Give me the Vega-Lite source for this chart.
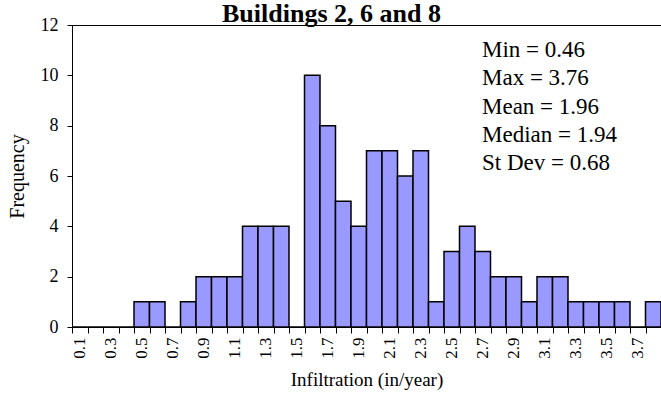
{
  "$schema": "https://vega.github.io/schema/vega-lite/v6.json",
  "width": 589,
  "height": 302,
  "autosize": {"type": "none"},
  "padding": {"left": 72, "top": 25, "right": 0, "bottom": 73},
  "background": "white",
  "config": {
    "font": "Liberation Serif",
    "view": {"stroke": "black", "strokeWidth": 1},
    "axis": {
      "labelFont": "Liberation Serif",
      "titleFont": "Liberation Serif",
      "labelColor": "black",
      "titleColor": "black",
      "domainColor": "black",
      "tickColor": "black",
      "titleFontWeight": "normal",
      "grid": false
    }
  },
  "title": {
    "text": "Buildings 2, 6 and 8",
    "font": "Liberation Serif",
    "fontSize": 26,
    "fontWeight": "bold",
    "color": "black",
    "anchor": "middle",
    "dx": -35,
    "offset": -11
  },
  "resolve": {"scale": {"y": "independent"}},
  "layer": [
    {
      "data": {
        "values": [
          {"bin": "0.1", "count": 0}, {"bin": "0.2", "count": 0}, {"bin": "0.3", "count": 0}, {"bin": "0.4", "count": 0},
          {"bin": "0.5", "count": 1}, {"bin": "0.6", "count": 1}, {"bin": "0.7", "count": 0}, {"bin": "0.8", "count": 1},
          {"bin": "0.9", "count": 2}, {"bin": "1.0", "count": 2}, {"bin": "1.1", "count": 2}, {"bin": "1.2", "count": 4},
          {"bin": "1.3", "count": 4}, {"bin": "1.4", "count": 4}, {"bin": "1.5", "count": 0}, {"bin": "1.6", "count": 10},
          {"bin": "1.7", "count": 8}, {"bin": "1.8", "count": 5}, {"bin": "1.9", "count": 4}, {"bin": "2.0", "count": 7},
          {"bin": "2.1", "count": 7}, {"bin": "2.2", "count": 6}, {"bin": "2.3", "count": 7}, {"bin": "2.4", "count": 1},
          {"bin": "2.5", "count": 3}, {"bin": "2.6", "count": 4}, {"bin": "2.7", "count": 3}, {"bin": "2.8", "count": 2},
          {"bin": "2.9", "count": 2}, {"bin": "3.0", "count": 1}, {"bin": "3.1", "count": 2}, {"bin": "3.2", "count": 2},
          {"bin": "3.3", "count": 1}, {"bin": "3.4", "count": 1}, {"bin": "3.5", "count": 1}, {"bin": "3.6", "count": 1},
          {"bin": "3.7", "count": 0}, {"bin": "3.8", "count": 1}
        ]
      },
      "mark": {"type": "bar", "fill": "#9999FF", "stroke": "black", "strokeWidth": 1.5},
      "encoding": {
        "x": {
          "field": "bin",
          "type": "ordinal",
          "sort": null,
          "scale": {"paddingInner": 0, "paddingOuter": 0},
          "axis": {
            "title": "Infiltration (in/year)",
            "titleFontSize": 19,
            "titlePadding": 12,
            "labelFontSize": 17,
            "labelAngle": -90,
            "labelPadding": 4,
            "labelOverlap": false,
            "tickBand": "extent",
            "tickSize": 6,
            "labelExpr": "round(toNumber(datum.value) * 10) % 2 == 1 ? datum.label : ''"
          }
        },
        "y": {
          "field": "count",
          "type": "quantitative",
          "scale": {"domain": [0, 12]},
          "axis": {
            "title": "Frequency",
            "titleFontSize": 20,
            "titlePadding": 13,
            "labelFontSize": 18,
            "values": [0, 2, 4, 6, 8, 10, 12],
            "tickSize": 5,
            "labelPadding": 9
          }
        }
      }
    },
    {
      "data": {
        "values": [
          {"line": "Min = 0.46", "order": 1},
          {"line": "Max = 3.76", "order": 2},
          {"line": "Mean = 1.96", "order": 3},
          {"line": "Median = 1.94", "order": 4},
          {"line": "St Dev = 0.68", "order": 5}
        ]
      },
      "mark": {"type": "text", "align": "left", "baseline": "alphabetic", "fontSize": 23, "font": "Liberation Serif", "color": "black"},
      "encoding": {
        "x": {"datum": "2.7", "bandPosition": 0.45},
        "y": {"field": "order", "type": "quantitative", "scale": {"domain": [-0.13, 10.54], "reverse": true}, "axis": null},
        "text": {"field": "line"}
      }
    }
  ]
}
